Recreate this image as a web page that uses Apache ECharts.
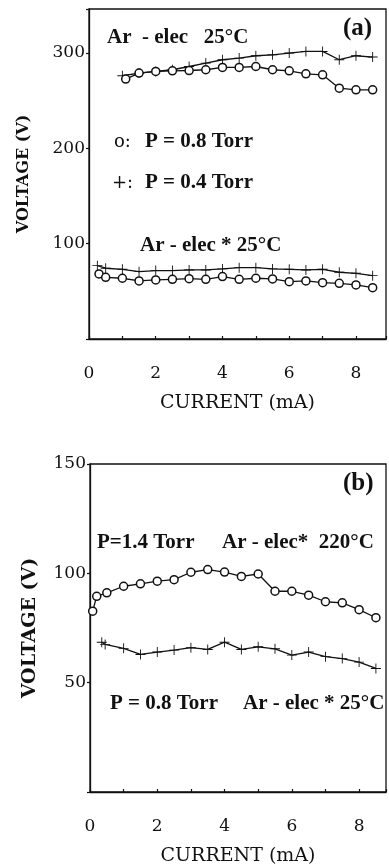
<!DOCTYPE html>
<html>
<head>
<meta charset="utf-8">
<script src="https://cdn.jsdelivr.net/npm/echarts@6/dist/echarts.min.js"></script>
<style>
  html, body { margin: 0; padding: 0; background: #fff; }
  #chart { width: 389px; height: 867px; }
</style>
</head>
<body>
<div id="chart"></div>
<script>
// Panel (a): Ar - elec 25°C, P = 0.4 Torr (+) and P = 0.8 Torr (o)
const aElec04Current = [1.0, 1.5, 2.0, 2.5, 3.0, 3.5, 4.0, 4.5, 5.0, 5.5, 6.0, 6.5, 7.0, 7.5, 8.0, 8.5];
const aElec04Voltage = [276, 278.8, 280.5, 282.3, 285.7, 289.3, 292.8, 294.5, 297, 298, 299.8, 301.5, 301.5, 292.8, 297, 295.6];
const aElec08Current = [1.1, 1.5, 2.0, 2.5, 3.0, 3.5, 4.0, 4.5, 5.0, 5.5, 6.0, 6.5, 7.0, 7.5, 8.0, 8.5];
const aElec08Voltage = [272.5, 278.8, 280.5, 281.2, 281.5, 282.3, 284.7, 284.7, 285.7, 282.3, 281.2, 278, 277, 263, 261.3, 261.3];

// Panel (a): Ar - elec* 25°C
const aStar04Current = [0.25, 0.5, 1.0, 1.5, 2.0, 2.5, 3.0, 3.5, 4.0, 4.5, 5.0, 5.5, 6.0, 6.5, 7.0, 7.5, 8.0, 8.5];
const aStar04Voltage = [76.9, 74.2, 73.1, 70.6, 71.7, 71.7, 72.4, 72.4, 73.5, 74.8, 74.8, 73.5, 73.1, 72.4, 73.1, 70, 68.9, 66.4];
const aStar08Current = [0.3, 0.5, 1.0, 1.5, 2.0, 2.5, 3.0, 3.5, 4.0, 4.5, 5.0, 5.5, 6.0, 6.5, 7.0, 7.5, 8.0, 8.5];
const aStar08Voltage = [68.2, 64.7, 63.7, 60.9, 61.9, 62.6, 63.3, 62.6, 65.4, 62.6, 63.7, 63, 60.1, 60.9, 59.1, 58.4, 56.7, 53.8];

// Panel (b): Ar - elec* 220°C at 1.4 Torr (o) and Ar - elec* 25°C at 0.8 Torr (+)
const bHot14Current = [0.08, 0.2, 0.5, 1.0, 1.5, 2.0, 2.5, 3.0, 3.5, 4.0, 4.5, 5.0, 5.5, 6.0, 6.5, 7.0, 7.5, 8.0, 8.5];
const bHot14Voltage = [82.7, 89.5, 91.1, 94.1, 95.2, 96.4, 97.1, 100.5, 101.7, 100.6, 98.6, 99.7, 91.8, 91.8, 90, 87, 86.5, 83.4, 79.7];
const bCold08Current = [0.35, 0.45, 1.0, 1.5, 2.0, 2.5, 3.0, 3.5, 4.0, 4.5, 5.0, 5.5, 6.0, 6.5, 7.0, 7.5, 8.0, 8.5];
const bCold08Voltage = [68.5, 67.5, 65.7, 62.9, 64, 64.9, 66, 65.2, 68.5, 65.2, 66.4, 65.5, 62.6, 64, 61.9, 61, 59.4, 56.5];

// Axis ticks
const xLabelTicks = [0, 2, 4, 6, 8];
const yTicksA = [100, 200, 300];
const yTicksB = [50, 100, 150];

const pair = (xs, ys) => xs.map((x, i) => [x, ys[i]]);

const INK = '#111';
const TICK_FONT = 'DejaVu Serif';
const TITLE_FONT = 'DejaVu Serif';
const NOTE_FONT = 'Liberation Serif';
const PLUS = 'path://M-1,-0.09L1,-0.09L1,0.09L-1,0.09Z M-0.09,-1L0.09,-1L0.09,1L-0.09,1Z';

function xAxisFor(gridIndex, max) {
  return {
    type: 'value', gridIndex, min: 0, max, interval: 1,
    axisLine: { onZero: false, lineStyle: { color: INK, width: 1.3 } },
    axisTick: { inside: true, length: 3, lineStyle: { color: INK, width: 1.2 } },
    splitLine: { show: false },
    axisLabel: {
      margin: 26, color: INK, fontFamily: TICK_FONT, fontSize: 17,
      formatter: v => (xLabelTicks.includes(v) ? String(v) : '')
    },
    name: 'CURRENT (mA)', nameLocation: 'middle', nameGap: 55,
    nameTextStyle: { color: INK, fontFamily: TITLE_FONT, fontSize: 19 }
  };
}

function yAxisFor(gridIndex, max, interval, ticks, titleSize, gap) {
  return {
    type: 'value', gridIndex, min: 0, max, interval,
    axisLine: { lineStyle: { color: INK, width: 1.3 } },
    axisTick: { length: 3, lineStyle: { color: INK, width: 1.2 } },
    splitLine: { show: false },
    axisLabel: {
      margin: 4, color: INK, fontFamily: TICK_FONT, fontSize: 17,
      showMaxLabel: true,
      formatter: v => (ticks.includes(v) ? String(v) : '')
    },
    name: 'VOLTAGE (V)', nameLocation: 'middle', nameGap: gap, nameRotate: 90,
    nameTextStyle: { color: INK, fontFamily: TITLE_FONT, fontSize: titleSize, fontWeight: 'bold' }
  };
}

function circleSeries(xi, yi, data) {
  return {
    type: 'line', xAxisIndex: xi, yAxisIndex: yi, data,
    symbol: 'circle', symbolSize: 8,
    itemStyle: { color: '#fff', borderColor: INK, borderWidth: 1.5 },
    lineStyle: { color: INK, width: 1.3 },
    animation: false, z: 3
  };
}

function plusSeries(xi, yi, data) {
  return {
    type: 'line', xAxisIndex: xi, yAxisIndex: yi, data,
    symbol: PLUS, symbolSize: 10,
    itemStyle: { color: INK },
    lineStyle: { color: INK, width: 1.3 },
    animation: false, z: 2
  };
}

function note(x, y, text, size, weight, family) {
  return {
    type: 'text', x, y, z: 10,
    style: {
      text, fill: INK, verticalAlign: 'middle', align: 'left',
      font: (weight || 'bold') + ' ' + size + 'px "' + (family || NOTE_FONT) + '"'
    }
  };
}

const chart = echarts.init(document.getElementById('chart'), null, { renderer: 'canvas' });
chart.setOption({
  backgroundColor: '#fff',
  animation: false,
  grid: [
    { left: 89, top: 9, width: 297, height: 330, show: true, borderColor: INK, borderWidth: 1.3 },
    { left: 90, top: 464, width: 296.5, height: 329, show: true, borderColor: INK, borderWidth: 1.3 }
  ],
  xAxis: [xAxisFor(0, 8.9), xAxisFor(1, 8.8)],
  yAxis: [
    yAxisFor(0, 346, 100, yTicksA, 16, 57),
    yAxisFor(1, 150, 50, yTicksB, 19, 50)
  ],
  series: [
    plusSeries(0, 0, pair(aElec04Current, aElec04Voltage)),
    circleSeries(0, 0, pair(aElec08Current, aElec08Voltage)),
    plusSeries(0, 0, pair(aStar04Current, aStar04Voltage)),
    circleSeries(0, 0, pair(aStar08Current, aStar08Voltage)),
    circleSeries(1, 1, pair(bHot14Current, bHot14Voltage)),
    plusSeries(1, 1, pair(bCold08Current, bCold08Voltage))
  ],
  graphic: [
    note(343, 29, '(a)', 25),
    note(107, 38, 'Ar  - elec   25°C', 21),
    note(114, 142, 'o:', 18, 'normal', TICK_FONT),
    note(145, 142, 'P = 0.8 Torr', 21),
    note(112, 183, '+:', 18, 'normal', TICK_FONT),
    note(145, 183, 'P = 0.4 Torr', 21),
    note(140, 246, 'Ar - elec * 25°C', 21),
    note(343, 484, '(b)', 25),
    note(97, 543, 'P=1.4 Torr', 21),
    note(222, 543, 'Ar - elec*  220°C', 21),
    note(110, 704, 'P = 0.8 Torr', 21),
    note(243, 704, 'Ar - elec * 25°C', 21)
  ]
});
</script>
</body>
</html>
